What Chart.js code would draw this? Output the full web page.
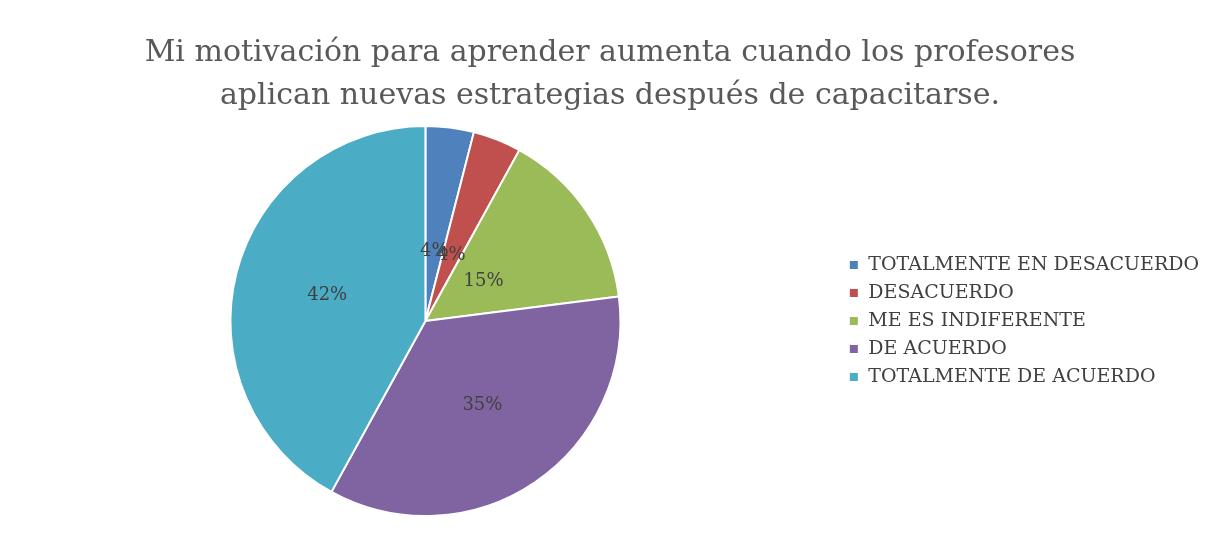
<!DOCTYPE html>
<html>
<head>
<meta charset="utf-8">
<script src="https://cdn.jsdelivr.net/npm/chart.js@4"></script>
<style>
  html, body { margin: 0; padding: 0; background: #fff; }
  #wrap { width: 1214px; height: 539px; }
</style>
</head>
<body>
<div id="wrap"><canvas id="pieChart"></canvas></div>
<script>
const categories = ["TOTALMENTE EN DESACUERDO", "DESACUERDO", "ME ES INDIFERENTE", "DE ACUERDO", "TOTALMENTE DE ACUERDO"];
const percents = [4, 4, 15, 35, 42];
const sliceColors = ["#4F81BD", "#C0504D", "#9BBB59", "#8064A2", "#4BACC6"];
const titleLines = ["Mi motivación para aprender aumenta cuando los profesores", "aplican nuevas estrategias después de capacitarse."];

// % label inside each slice, small slices get pulled a bit closer to the centre
const sliceLabels = {
  id: "sliceLabels",
  afterDatasetsDraw(chart) {
    const ctx = chart.ctx;
    const meta = chart.getDatasetMeta(0);
    ctx.save();
    ctx.font = "18px 'DejaVu Serif'";
    ctx.fillStyle = "#404040";
    ctx.textAlign = "center";
    ctx.textBaseline = "middle";
    meta.data.forEach((arc, i) => {
      const p = arc.getProps(["x", "y", "startAngle", "endAngle", "outerRadius"], true);
      const mid = (p.startAngle + p.endAngle) / 2;
      const f = percents[i] < 20 ? 0.36 : 0.52;
      ctx.fillText(percents[i] + "%", p.x + Math.cos(mid) * p.outerRadius * f, p.y + Math.sin(mid) * p.outerRadius * f);
    });
    ctx.restore();
  }
};

new Chart(document.getElementById("pieChart"), {
  type: "pie",
  data: {
    labels: categories,
    datasets: [{
      data: percents,
      backgroundColor: sliceColors,
      borderColor: "#fff",
      borderWidth: 2
    }]
  },
  options: {
    responsive: true,
    maintainAspectRatio: false,
    animation: false,
    layout: { padding: { left: 11, right: 5, top: 0, bottom: 22 } },
    plugins: {
      title: {
        display: true,
        text: titleLines,
        color: "#595959",
        font: { family: "'DejaVu Serif'", size: 30, weight: "normal", lineHeight: 1.45 },
        padding: { top: 31, bottom: 7 }
      },
      legend: {
        position: "right",
        fullSize: false,
        labels: {
          color: "#404040",
          font: { family: "'DejaVu Serif'", size: 19 },
          boxWidth: 10,
          boxHeight: 10,
          padding: 9
        }
      },
      tooltip: { enabled: false }
    }
  },
  plugins: [sliceLabels]
});
</script>
</body>
</html>
